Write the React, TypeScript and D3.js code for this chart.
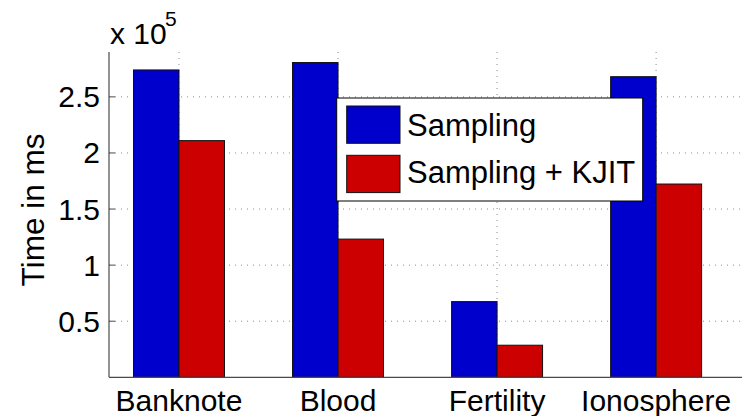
import React from "react";
import * as d3 from "d3";

const categories = ["Banknote", "Blood", "Fertility", "Ionosphere"];
const seriesNames = ["Sampling", "Sampling + KJIT"];
const sampling = [2.74, 2.806, 0.675, 2.68];
const samplingKjit = [2.11, 1.232, 0.286, 1.723];
const yTicks = [0.5, 1, 1.5, 2, 2.5];

const W = 742;
const H = 416;
const FONT = "'Liberation Sans', Arial, Helvetica, sans-serif";
const colors = ["#0000cc", "#cc0000"];

export default function App() {
  const left = 109;
  const right = 742;
  const top = 52;
  const bottom = 377.3;

  const x = d3.scaleLinear().domain([-0.44, 3.54]).range([left, right]);
  const y = d3.scaleLinear().domain([0, 2.9]).range([bottom, top]);
  const barW = 0.286;
  const series = [sampling, samplingKjit];

  const grid = "#8a8a8a";
  const axis = "#4a4a4a";

  return (
    <svg
      width={W}
      height={H}
      style={{ position: "absolute", left: 0, top: 0, background: "#fff" }}
      fontFamily={FONT}
    >
      <rect x={0} y={0} width={W} height={H} fill="#fff" />
      {/* dotted grid */}
      {yTicks.map((t) => (
        <line
          key={"gy" + t}
          x1={left}
          x2={right}
          y1={y(t)}
          y2={y(t)}
          stroke={grid}
          strokeWidth={1}
          strokeDasharray="1 5"
        />
      ))}
      {categories.map((c, i) => (
        <line
          key={"gx" + c}
          x1={x(i)}
          x2={x(i)}
          y1={top}
          y2={bottom}
          stroke={grid}
          strokeWidth={1}
          strokeDasharray="1 5"
        />
      ))}
      {/* bars */}
      {series.map((vals, s) =>
        vals.map((v, i) => {
          const x0 = s === 0 ? x(i - barW) : x(i);
          const x1 = s === 0 ? x(i) : x(i + barW);
          return (
            <rect
              key={s + "-" + i}
              x={x0}
              y={y(v)}
              width={x1 - x0}
              height={y(0) - y(v)}
              fill={colors[s]}
              stroke="#111"
              strokeWidth={1}
            />
          );
        })
      )}
      {/* axes */}
      <line x1={left} x2={left} y1={top} y2={bottom} stroke={axis} strokeWidth={1.2} />
      <line x1={left} x2={right} y1={bottom} y2={bottom} stroke={axis} strokeWidth={1.2} />
      {yTicks.map((t) => (
        <g key={"yt" + t}>
          <line x1={left} x2={left + 6} y1={y(t)} y2={y(t)} stroke={axis} strokeWidth={1} />
          <text
            x={100}
            y={y(t)}
            dy="0.35em"
            textAnchor="end"
            fontSize={30}
            fill="#000"
          >
            {t}
          </text>
        </g>
      ))}
      {categories.map((c, i) => (
        <text key={"xl" + c} x={x(i)} y={411} textAnchor="middle" fontSize={30} fill="#000">
          {c}
        </text>
      ))}
      {/* exponent */}
      <text x={110} y={43.5} fontSize={30} fill="#000">
        x 10
      </text>
      <text x={165} y={25.5} fontSize={21} fill="#000">
        5
      </text>
      {/* y label */}
      <text
        transform={`translate(44, 210) rotate(-90)`}
        textAnchor="middle"
        fontSize={31.5}
        fill="#000"
      >
        Time in ms
      </text>
      {/* legend */}
      <g>
        <rect x={336.7} y={98} width={306} height={103} fill="#fff" stroke="#000" strokeWidth={1} />
        {seriesNames.map((n, s) => (
          <g key={n}>
            <rect
              x={346.7}
              y={106 + s * 49.3}
              width={53.3}
              height={37.3}
              fill={colors[s]}
              stroke="#111"
              strokeWidth={1}
            />
            <text x={407} y={135.7 + s * 47.6} fontSize={31} fill="#000">
              {n}
            </text>
          </g>
        ))}
      </g>
    </svg>
  );
}
